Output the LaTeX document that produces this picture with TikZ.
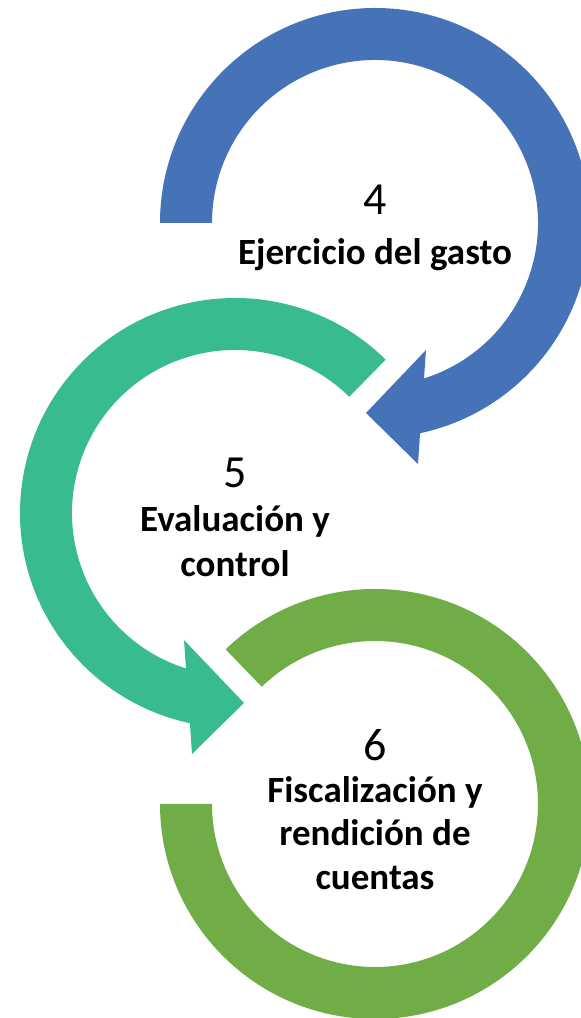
\documentclass[tikz,border=0pt]{standalone}
\usepackage{fontspec}
\setmainfont{Carlito}
\usetikzlibrary{calc}
\definecolor{cblue}{HTML}{4672B8}
\definecolor{cteal}{HTML}{38BB8F}
\definecolor{cgreen}{HTML}{71AD47}
\begin{document}
\begin{tikzpicture}[x=1pt,y=1pt,
  lbl/.style={font=\fontsize{37}{44}\selectfont\bfseries, inner sep=0pt, anchor=base},
  num/.style={font=\fontsize{46}{50}\selectfont, inner sep=0pt, anchor=base}]
\useasboundingbox (0,0) rectangle (581,1018);
\clip (0,0) rectangle (581,1018);
\fill[white] (0,0) rectangle (581,1018);
\coordinate (c4) at (375,795);
\coordinate (c5) at (235,505);
\coordinate (c6) at (375,214);
% blue arrow (4)
\fill[cblue] ($(c4)+(180:215)$) arc[start angle=180,end angle=-77.9,radius=215]
  -- ($(c4)+(43,-241)$) -- ($(c4)+(-9,-190)$) -- ($(c4)+(51,-127)$)
  -- ($(c4)+(-72.5:163)$) arc[start angle=-72.5,end angle=180,radius=163] -- cycle;
% teal arrow (5)
\fill[cteal] ($(c5)+(45.5:215)$) arc[start angle=45.5,end angle=257.9,radius=215]
  -- ($(c5)+(-43,-241)$) -- ($(c5)+(9,-190)$) -- ($(c5)+(-51,-127)$)
  -- ($(c5)+(252.5:163)$) arc[start angle=252.5,end angle=45.5,radius=163] -- cycle;
% green ring (6)
\fill[cgreen] ($(c6)+(180:215)$) arc[start angle=180,end angle=494,radius=215]
  -- ($(c6)+(134:163)$) arc[start angle=494,end angle=180,radius=163] -- cycle;
% labels
\node[num] (n4) at (375,803) {4};
\node[lbl] (t4) at (375,753) {Ejercicio del gasto};
\node[num] (n5) at (235,530) {5};
\node[lbl] (t5a) at (235,486) {Evaluación y};
\node[lbl] (t5b) at (235,441) {control};
\node[num] (n6) at (375,257) {6};
\node[lbl] (t6a) at (375,215) {Fiscalización y};
\node[lbl] (t6b) at (375,172) {rendición de};
\node[lbl] (t6c) at (375,128) {cuentas};
\end{tikzpicture}
\end{document}
